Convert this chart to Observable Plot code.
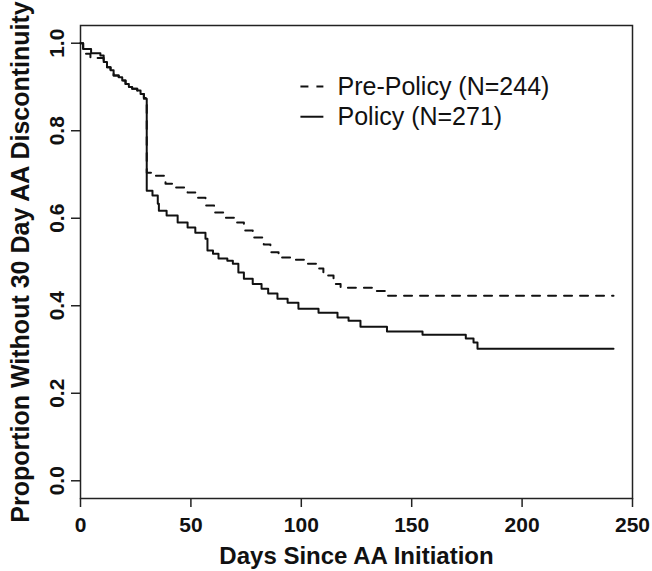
<!DOCTYPE html>
<html>
<head>
<meta charset="utf-8">
<script src="https://cdn.jsdelivr.net/npm/d3@7"></script>
<script src="https://cdn.jsdelivr.net/npm/@observablehq/plot@0.6"></script>
<style>
  html, body { margin: 0; padding: 0; background: #fff; }
  #chart svg { display: block; }
</style>
</head>
<body>
<div id="chart"></div>
<script>
// Kaplan-Meier step data (day of event, survival proportion after the step)
const policyDays = [0, 1.2, 4.8, 9, 10.5, 12, 13.6, 15, 17.3, 18.9, 20.4, 21.9, 23.4, 25.7, 27.2, 28.7, 30, 32.6, 35, 35.5, 39, 44, 48.5, 52, 56.6, 57.5, 60, 62.5, 66.5, 69, 71.5, 74, 78, 82, 85, 89.2, 93.8, 98.7, 107.8, 116.4, 121.4, 126.8, 138.8, 154.9, 174.5, 178, 179.8, 241.4];
const policySurv = [1.0, 0.987, 0.977, 0.972, 0.957, 0.945, 0.938, 0.926, 0.922, 0.915, 0.907, 0.9, 0.896, 0.892, 0.884, 0.873, 0.663, 0.652, 0.633, 0.617, 0.606, 0.59, 0.579, 0.567, 0.553, 0.526, 0.519, 0.508, 0.503, 0.496, 0.476, 0.462, 0.45, 0.439, 0.428, 0.416, 0.407, 0.393, 0.384, 0.373, 0.366, 0.352, 0.341, 0.334, 0.325, 0.316, 0.302, 0.302];

const preDays = [0, 1.2, 4.5, 10.5, 12, 13.6, 15, 17.3, 18.9, 20.4, 21.9, 23.4, 25.7, 27.2, 28.7, 30, 33, 38.5, 42, 48.5, 53, 56.6, 60.5, 65.7, 70, 74, 78, 83, 86, 89.7, 96, 102, 107, 110, 114.6, 117.8, 132.7, 139, 241.4];
const preSurv = [1.0, 0.976, 0.966, 0.957, 0.945, 0.938, 0.926, 0.922, 0.915, 0.907, 0.9, 0.896, 0.892, 0.884, 0.875, 0.704, 0.697, 0.679, 0.670, 0.659, 0.647, 0.629, 0.613, 0.601, 0.59, 0.572, 0.556, 0.540, 0.522, 0.51, 0.505, 0.496, 0.485, 0.469, 0.450, 0.441, 0.434, 0.423, 0.423];

const xTicks = [0, 50, 100, 150, 200, 250];
const yTicks = [0.0, 0.2, 0.4, 0.6, 0.8, 1.0];
const yTickLabels = ["0.0", "0.2", "0.4", "0.6", "0.8", "1.0"];

const xTitle = "Days Since AA Initiation";
const yTitle = "Proportion Without 30 Day AA Discontinuity";

const legendLabels = ["Pre-Policy (N=244)", "Policy (N=271)"];
// legend anchor in data coordinates
const legendX1 = 99.6, legendX2 = 110, legendTextX = 116.4;
const legendY = [0.901, 0.832];

const policy = policyDays.map((d, i) => ({day: d, surv: policySurv[i]}));
const pre = preDays.map((d, i) => ({day: d, surv: preSurv[i]}));
const legend = legendLabels.map((l, i) => ({label: l, y: legendY[i]}));

const FONT = "'Liberation Sans', Arial, Helvetica, sans-serif";

const chart = Plot.plot({
  width: 652,
  height: 571,
  marginLeft: 80,
  marginRight: 20,
  marginTop: 25,
  marginBottom: 73,
  style: {fontFamily: FONT, background: "#fff", color: "#111"},
  x: {domain: [0, 250]},
  y: {domain: [-0.0405, 1.0405]},
  marks: [
    Plot.frame({stroke: "#222", strokeWidth: 1.5}),
    Plot.axisX({ticks: xTicks, tickSize: 9, tickPadding: 10, fontSize: 21, fontWeight: "bold", label: null, stroke: "#222", strokeWidth: 1.5, tickFormat: d => String(d)}),
    Plot.axisY({ticks: yTicks, tickSize: 9, label: null, stroke: "#222", strokeWidth: 1.5, tickFormat: () => ""}),
    Plot.text(yTicks, {y: d => d, text: (d, i) => yTickLabels[i], frameAnchor: "left", dx: -17, rotate: -90, textAnchor: "middle", lineAnchor: "bottom", fontSize: 21, fontWeight: "bold"}),
    Plot.text([xTitle], {text: d => d, frameAnchor: "bottom", dy: 65, lineAnchor: "bottom", fontSize: 24, fontWeight: "bold"}),
    Plot.text([yTitle], {text: d => d, frameAnchor: "left", dx: -52, rotate: -90, lineAnchor: "bottom", textAnchor: "middle", fontSize: 25, fontWeight: "bold"}),
    Plot.line(pre, {x: "day", y: "surv", curve: "step-after", stroke: "#111", strokeWidth: 2, strokeDasharray: "8,8"}),
    Plot.line(policy, {x: "day", y: "surv", curve: "step-after", stroke: "#111", strokeWidth: 2}),
    Plot.link([legend[0]], {x1: legendX1, x2: legendX2, y1: "y", y2: "y", stroke: "#111", strokeWidth: 2, strokeDasharray: "8,8"}),
    Plot.link([legend[1]], {x1: legendX1, x2: legendX2, y1: "y", y2: "y", stroke: "#111", strokeWidth: 2}),
    Plot.text(legend, {x: legendTextX, y: "y", text: "label", textAnchor: "start", fontSize: 25, fill: "#111"})
  ]
});
document.getElementById("chart").appendChild(chart);
</script>
</body>
</html>
